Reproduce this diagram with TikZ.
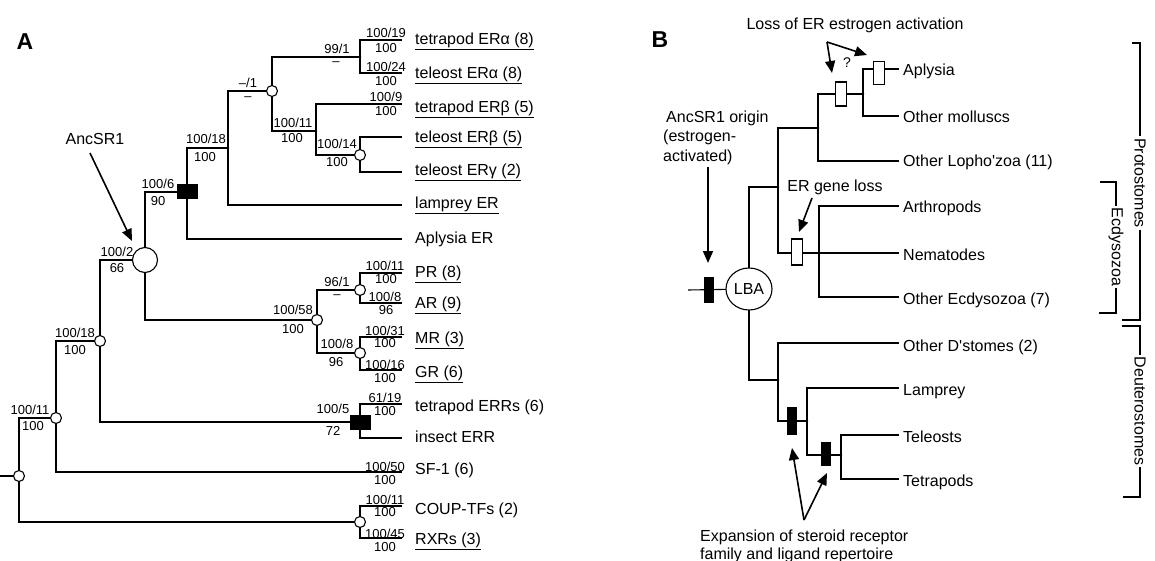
\documentclass[tikz,border=0pt]{standalone}
\usepackage{fontspec}
\setmainfont{Liberation Sans}
\usetikzlibrary{arrows.meta,shapes.geometric}
\pgfdeclarelayer{bg}
\pgfsetlayers{bg,main}
\begin{document}
\begin{tikzpicture}[x=1pt,y=-1pt,
 br/.style={line width=1.1pt},
 sc/.style={circle,draw,line width=1.1pt,fill=white,minimum size=11pt,inner sep=0pt},
 bc/.style={circle,draw,line width=1.1pt,fill=white,minimum size=25pt,inner sep=0pt},
 jn/.style={circle,fill=black,minimum size=2.6pt,inner sep=0pt},
 blk/.style={rectangle,fill=black,minimum width=21pt,minimum height=15pt,inner sep=0pt},
 ob/.style={rectangle,draw,line width=1.1pt,fill=white,minimum width=11pt,minimum height=24pt,inner sep=0pt},
 bb/.style={rectangle,fill=black,minimum width=10pt,minimum height=26pt,inner sep=0pt},
 lf/.style={anchor=base west,inner sep=0pt,font=\fontsize{16}{19}\selectfont},
 nm/.style={inner sep=0pt,font=\fontsize{13}{15}\selectfont},
 tx/.style={inner sep=0pt,font=\fontsize{16}{19}\selectfont},
 ar/.style={line width=1.6pt,-{Triangle[length=12pt,width=10pt]}},
 pl/.style={inner sep=0pt,font=\bfseries\fontsize{23}{26}\selectfont},
 brk/.style={inner sep=2pt,fill=white,rotate=-90,font=\fontsize{16}{19}\selectfont}]
\useasboundingbox (0,0) rectangle (1155,561);

% ================= Panel A =================
\node[pl] (A) at (25,42) {A};
\coordinate (st) at (0,476);
\node[sc] (r0) at (19,476) {};
\node[sc] (n1) at (56,418) {};
\node[sc] (n2) at (100,341) {};
\node[bc] (anc) at (145,260) {};
\node[blk] (er) at (187,192) {};
\node[jn] (n4) at (228,148) {};
\node[sc] (n5) at (272,91) {};
\node[jn] (n6) at (360,57) {};
\node[jn] (n7) at (316,131) {};
\node[sc] (n8) at (360,155) {};
\node[sc] (sr) at (317,320) {};
\node[sc] (pa) at (360,290) {};
\node[sc] (mg) at (360,353) {};
\node[blk] (err) at (360,422) {};
\node[sc] (cr) at (360,522) {};

\coordinate (la1) at (402,40);
\coordinate (la2) at (402,73);
\coordinate (la3) at (402,104);
\coordinate (la4) at (402,137);
\coordinate (la5) at (402,172);
\coordinate (la6) at (402,205);
\coordinate (la7) at (402,239);
\coordinate (la8) at (402,273);
\coordinate (la9) at (402,303);
\coordinate (la10) at (402,337);
\coordinate (la11) at (402,370);
\coordinate (la12) at (402,404);
\coordinate (la13) at (402,438);
\coordinate (la14) at (402,472);
\coordinate (la15) at (402,506);
\coordinate (la16) at (402,538);

\begin{pgfonlayer}{bg}
\draw[br] (st) -- (r0.center);
\draw[br] (r0.center) |- (n1.center);
\draw[br] (r0.center) |- (cr.center);
\draw[br] (n1.center) |- (n2.center);
\draw[br] (n1.center) |- (la14);
\draw[br] (n2.center) |- (anc.center);
\draw[br] (n2.center) |- (err.center);
\draw[br] (anc.center) |- (er.center);
\draw[br] (anc.center) |- (sr.center);
\draw[br] (er.center) |- (n4.center);
\draw[br] (er.center) |- (la7);
\draw[br] (n4.center) |- (n5.center);
\draw[br] (n4.center) |- (la6);
\draw[br] (n5.center) |- (n6.center);
\draw[br] (n5.center) |- (n7.center);
\draw[br] (n6.center) |- (la1);
\draw[br] (n6.center) |- (la2);
\draw[br] (n7.center) |- (la3);
\draw[br] (n7.center) |- (n8.center);
\draw[br] (n8.center) |- (la4);
\draw[br] (n8.center) |- (la5);
\draw[br] (sr.center) |- (pa.center);
\draw[br] (sr.center) |- (mg.center);
\draw[br] (pa.center) |- (la8);
\draw[br] (pa.center) |- (la9);
\draw[br] (mg.center) |- (la10);
\draw[br] (mg.center) |- (la11);
\draw[br] (err.center) |- (la12);
\draw[br] (err.center) |- (la13);
\draw[br] (cr.center) |- (la15);
\draw[br] (cr.center) |- (la16);
\end{pgfonlayer}

% leaf labels A
\node[lf] (t1) at (415,44.8) {\underline{tetrapod ERα (8)}};
\node[lf] (t2) at (415,78.8) {\underline{teleost ERα (8)}};
\node[lf] (t3) at (415,112.8) {\underline{tetrapod ERβ (5)}};
\node[lf] (t4) at (415,142.8) {\underline{teleost ERβ (5)}};
\node[lf] (t5) at (415,175.8) {\underline{teleost ERγ (2)}};
\node[lf] (t6) at (415,208.8) {\underline{lamprey ER}};
\node[lf] (t7) at (415,243.8) {Aplysia ER};
\node[lf] (t8) at (415,277.8) {\underline{PR (8)}};
\node[lf] (t9) at (415,308.8) {\underline{AR (9)}};
\node[lf] (t10) at (415,343.8) {\underline{MR (3)}};
\node[lf] (t11) at (415,377.8) {\underline{GR (6)}};
\node[lf] (t12) at (415,411.8) {tetrapod ERRs (6)};
\node[lf] (t13) at (415,442.8) {insect ERR};
\node[lf] (t14) at (415,474.8) {SF-1 (6)};
\node[lf] (t15) at (415,514.8) {COUP-TFs (2)};
\node[lf] (t16) at (415,544.8) {\underline{RXRs (3)}};

% support labels A
\node[nm] (s1a) at (30,410) {100/11};
\node[nm] (s1b) at (33,426) {100};
\node[nm] (s2a) at (75,333) {100/18};
\node[nm] (s2b) at (75,350) {100};
\node[nm] (s3a) at (117,252) {100/2};
\node[nm] (s3b) at (117,268) {66};
\node[nm] (s4a) at (158,184) {100/6};
\node[nm] (s4b) at (158,201) {90};
\node[nm] (s5a) at (206,139) {100/18};
\node[nm] (s5b) at (205,157) {100};
\node[nm] (s6a) at (248,83) {\textendash/1};
\node[nm] (s6b) at (248,99) {\textendash};
\node[nm] (s7a) at (337,49) {99/1};
\node[nm] (s7b) at (336,64) {\textendash};
\node[nm] (s8a) at (386,33) {100/19};
\node[nm] (s8b) at (386,48) {100};
\node[nm] (s9a) at (386,67) {100/24};
\node[nm] (s9b) at (386,81) {100};
\node[nm] (s10a) at (293,123) {100/11};
\node[nm] (s10b) at (292,138) {100};
\node[nm] (s11a) at (386,97) {100/9};
\node[nm] (s11b) at (386,111) {100};
\node[nm] (s12a) at (337,144) {100/14};
\node[nm] (s12b) at (337,162) {100};
\node[nm] (s13a) at (293,310) {100/58};
\node[nm] (s13b) at (293,329) {100};
\node[nm] (s14a) at (337,282) {96/1};
\node[nm] (s14b) at (337,297) {\textendash};
\node[nm] (s15a) at (385,266) {100/11};
\node[nm] (s15b) at (386,279) {100};
\node[nm] (s16a) at (385,297) {100/8};
\node[nm] (s16b) at (386,310) {96};
\node[nm] (s17a) at (337,344) {100/8};
\node[nm] (s17b) at (336,362) {96};
\node[nm] (s18a) at (385,331) {100/31};
\node[nm] (s18b) at (385,343) {100};
\node[nm] (s19a) at (385,365) {100/16};
\node[nm] (s19b) at (385,378) {100};
\node[nm] (s20a) at (333,409) {100/5};
\node[nm] (s20b) at (333,431) {72};
\node[nm] (s21a) at (385,398) {61/19};
\node[nm] (s21b) at (385,411) {100};
\node[nm] (s22a) at (385,467) {100/50};
\node[nm] (s22b) at (385,480) {100};
\node[nm] (s23a) at (385,500) {100/11};
\node[nm] (s23b) at (385,512) {100};
\node[nm] (s24a) at (385,534) {100/45};
\node[nm] (s24b) at (385,547) {100};

\node[tx] (ancT) at (95,139) {AncSR1};
\coordinate (aa1) at (90,153);
\coordinate (aa2) at (132,241);
\draw[ar] (aa1) -- (aa2);

% ================= Panel B =================
\node[pl] (B) at (660,40) {B};
\coordinate (bst) at (688,290);
\node[bb] (lb) at (709,290) {};
\node[ellipse,draw,fill=white,line width=1.1pt,minimum width=46pt,minimum height=42pt,inner sep=0pt,font=\fontsize{16}{19}\selectfont] (lba) at (749,289) {LBA};
\node[jn] (prot) at (778,187) {};
\node[jn] (lopho) at (818,128) {};
\node[jn] (moll) at (863,94) {};
\node[jn] (ecd) at (819,253) {};
\node[jn] (deut) at (778,380) {};
\node[jn] (vrt) at (807,421) {};
\node[jn] (tel) at (841,455) {};
\node[ob,minimum height=23pt] (r1) at (879,73) {};
\node[ob] (r2) at (841,94) {};
\node[ob,minimum height=26pt] (r3) at (797,252) {};
\node[bb,minimum height=28pt] (b2) at (792,421) {};
\node[bb,minimum height=24pt] (b3) at (826,454) {};

\coordinate (lApl) at (899,69);
\coordinate (lMol) at (899,116);
\coordinate (lLop) at (899,161);
\coordinate (lArt) at (899,206);
\coordinate (lNem) at (899,253);
\coordinate (lEcd) at (899,297);
\coordinate (lDst) at (899,343);
\coordinate (lLam) at (899,388);
\coordinate (lTel) at (899,435);
\coordinate (lTet) at (899,479);

\coordinate (pt1) at (1132,43);
\coordinate (pt2) at (1140,43);
\coordinate (pt3) at (1140,320);
\coordinate (pt4) at (1122,320);
\coordinate (dt1) at (1122,326);
\coordinate (dt2) at (1140,326);
\coordinate (dt3) at (1140,497);
\coordinate (dt4) at (1123,497);
\coordinate (et1) at (1100,182);
\coordinate (et2) at (1116,182);
\coordinate (et3) at (1116,313);
\coordinate (et4) at (1099,313);

\begin{pgfonlayer}{bg}
\draw[br] (bst) -- (lba.center);
\draw[br] (lba.center) |- (prot.center);
\draw[br] (lba.center) |- (deut.center);
\draw[br] (prot.center) |- (lopho.center);
\draw[br] (prot.center) |- (ecd.center);
\draw[br] (lopho.center) |- (moll.center);
\draw[br] (lopho.center) |- (lLop);
\draw[br] (moll.center) |- (lApl);
\draw[br] (moll.center) |- (lMol);
\draw[br] (ecd.center) |- (lArt);
\draw[br] (ecd.center) |- (lNem);
\draw[br] (ecd.center) |- (lEcd);
\draw[br] (deut.center) |- (lDst);
\draw[br] (deut.center) |- (vrt.center);
\draw[br] (vrt.center) |- (lLam);
\draw[br] (vrt.center) |- (tel.center);
\draw[br] (tel.center) |- (lTel);
\draw[br] (tel.center) |- (lTet);
\draw[br] (pt1) -- (pt2) -- (pt3) -- (pt4);
\draw[br] (dt1) -- (dt2) -- (dt3) -- (dt4);
\draw[br] (et1) -- (et2) -- (et3) -- (et4);
\end{pgfonlayer}

\node[lf] (u1) at (903,75.8) {Aplysia};
\node[lf] (u2) at (903,122.8) {Other molluscs};
\node[lf] (u3) at (903,166.8) {Other Lopho\textquotesingle zoa (11)};
\node[lf] (u4) at (903,212.8) {Arthropods};
\node[lf] (u5) at (903,260.8) {Nematodes};
\node[lf] (u6) at (903,304.8) {Other Ecdysozoa (7)};
\node[lf] (u7) at (903,351.8) {Other D\textquotesingle stomes (2)};
\node[lf] (u8) at (903,395.8) {Lamprey};
\node[lf] (u9) at (903,442.8) {Teleosts};
\node[lf] (u10) at (903,486.8) {Tetrapods};

\node[brk] (prT) at (1140,183) {Protostomes};
\node[brk] (deT) at (1140,411) {Deuterostomes};
\node[brk] (ecT) at (1116,247) {Ecdysozoa};

% annotations B
\node[tx] (loss) at (855,25) {Loss of ER estrogen activation};
\coordinate (ls0) at (827,42);
\coordinate (ls1) at (832,73);
\coordinate (ls2) at (867,55);
\draw[ar] (ls0) -- (ls1);
\draw[ar] (ls0) -- (ls2);
\node[inner sep=0pt,font=\fontsize{14}{16}\selectfont] (qm) at (847,63) {?};

\node[lf] (or1) at (666,123) {AncSR1 origin};
\node[lf] (or2) at (663,142) {(estrogen-};
\node[lf] (or3) at (663,162) {activated)};
\coordinate (oa1) at (708,167);
\coordinate (oa2) at (708,263);
\draw[ar] (oa1) -- (oa2);

\node[tx] (egl) at (835,187) {ER gene loss};
\coordinate (ga1) at (812,198);
\coordinate (ga2) at (799,232);
\draw[ar] (ga1) -- (ga2);

\node[lf] (ex1) at (700,541) {Expansion of steroid receptor};
\node[lf] (ex2) at (700,559) {family and ligand repertoire};
\coordinate (xa0) at (804,520);
\coordinate (xa1) at (792,448);
\coordinate (xa2) at (827,473);
\draw[ar] (xa0) -- (xa1);
\draw[ar] (xa0) -- (xa2);
\end{tikzpicture}
\end{document}
